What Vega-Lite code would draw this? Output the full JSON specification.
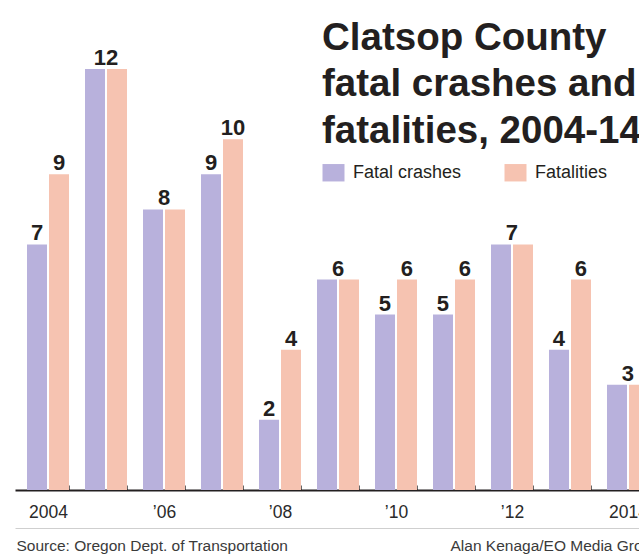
{
  "$schema": "https://vega.github.io/schema/vega-lite/v6.json",
  "autosize": {"type": "none"},
  "width": 639,
  "height": 490,
  "padding": {"left": 0, "top": 0, "right": 0, "bottom": 68},
  "background": "white",
  "config": {"view": {"stroke": null}, "font": "Liberation Sans"},
  "title": {
    "text": ["Clatsop County", "fatal crashes and", "fatalities, 2004-14"],
    "anchor": "start",
    "frame": "group",
    "orient": "top",
    "baseline": "alphabetic",
    "offset": 0,
    "dx": 322,
    "dy": 181,
    "fontSize": 38.5,
    "lineHeight": 46.5,
    "font": "Liberation Sans",
    "fontWeight": "bold",
    "color": "#231f20"
  },
  "data": {
    "values": [
      {"year": 2004, "series": "Fatal crashes", "value": 7},
      {"year": 2004, "series": "Fatalities", "value": 9},
      {"year": 2005, "series": "Fatal crashes", "value": 12},
      {"year": 2005, "series": "Fatalities", "value": 12},
      {"year": 2006, "series": "Fatal crashes", "value": 8},
      {"year": 2006, "series": "Fatalities", "value": 8},
      {"year": 2007, "series": "Fatal crashes", "value": 9},
      {"year": 2007, "series": "Fatalities", "value": 10},
      {"year": 2008, "series": "Fatal crashes", "value": 2},
      {"year": 2008, "series": "Fatalities", "value": 4},
      {"year": 2009, "series": "Fatal crashes", "value": 6},
      {"year": 2009, "series": "Fatalities", "value": 6},
      {"year": 2010, "series": "Fatal crashes", "value": 5},
      {"year": 2010, "series": "Fatalities", "value": 6},
      {"year": 2011, "series": "Fatal crashes", "value": 5},
      {"year": 2011, "series": "Fatalities", "value": 6},
      {"year": 2012, "series": "Fatal crashes", "value": 7},
      {"year": 2012, "series": "Fatalities", "value": 7},
      {"year": 2013, "series": "Fatal crashes", "value": 4},
      {"year": 2013, "series": "Fatalities", "value": 6},
      {"year": 2014, "series": "Fatal crashes", "value": 3},
      {"year": 2014, "series": "Fatalities", "value": 3}
    ]
  },
  "transform": [
    {"joinaggregate": [{"op": "min", "field": "value", "as": "mn"}, {"op": "max", "field": "value", "as": "mx"}], "groupby": ["year"]}
  ],
  "encoding": {
    "x": {
      "field": "year",
      "type": "ordinal",
      "scale": {"range": [15, 661], "paddingInner": 0.2759, "paddingOuter": 0.207}
    },
    "y": {
      "field": "value",
      "type": "quantitative",
      "scale": {"domain": [0, 13.97], "nice": false},
      "axis": null
    }
  },
  "layer": [
    {
      "mark": {"type": "bar"},
      "encoding": {
        "x": {
          "field": "year",
          "type": "ordinal",
          "axis": {
            "title": "Source: Oregon Dept. of Transportation",
            "titleX": 16,
            "titleY": 55,
            "titleAlign": "left",
            "titleAnchor": null,
            "titleBaseline": "middle",
            "titleFontSize": 15.5,
            "titleFontWeight": "normal",
            "titleColor": "#3a3a3a",
            "titleFont": "Liberation Sans",
            "labelExpr": "(datum.value == 2004 || datum.value == 2014) ? datum.label : (datum.value % 2 == 0 ? '’' + slice(datum.label, 2) : '')",
            "labelAngle": 0,
            "labelFontSize": 17.5,
            "labelFont": "Liberation Sans",
            "labelColor": "#2a2a2a",
            "labelBaseline": "middle",
            "labelPadding": 27,
            "domainColor": "#231f20",
            "domainWidth": 2,
            "tickBand": "extent",
            "tickSize": -5,
            "tickColor": "#666666",
            "tickWidth": 1
          }
        },
        "xOffset": {"field": "series", "scale": {"paddingInner": 0.0909, "paddingOuter": 0}},
        "color": {
          "field": "series",
          "type": "nominal",
          "scale": {"domain": ["Fatal crashes", "Fatalities"], "range": ["#b8b1dc", "#f6c3b1"]},
          "legend": {
            "orient": "none",
            "legendX": 324,
            "legendY": 163,
            "direction": "horizontal",
            "title": null,
            "symbolType": "M-1.2,-0.95L1.2,-0.95L1.2,0.95L-1.2,0.95Z",
            "symbolSize": 336,
            "symbolStrokeWidth": 0,
            "symbolOpacity": 1,
            "labelFontSize": 18,
            "labelFont": "Liberation Sans",
            "labelColor": "#231f20",
            "labelOffset": 10,
            "columnPadding": 42
          }
        }
      }
    },
    {
      "transform": [{"filter": "datum.mn != datum.mx"}],
      "mark": {"type": "text", "baseline": "alphabetic", "dy": -4, "fontSize": 22, "fontWeight": "bold", "font": "Liberation Sans", "color": "#231f20"},
      "encoding": {
        "x": {"field": "year", "type": "ordinal", "axis": null},
        "xOffset": {"field": "series", "scale": {"paddingInner": 0.0909, "paddingOuter": 0}},
        "text": {"field": "value", "type": "quantitative"}
      }
    },
    {
      "transform": [{"filter": "datum.mn == datum.mx && datum.series == 'Fatal crashes'"}],
      "mark": {"type": "text", "baseline": "alphabetic", "dy": -4, "fontSize": 22, "fontWeight": "bold", "font": "Liberation Sans", "color": "#231f20"},
      "encoding": {
        "x": {
          "field": "year",
          "type": "ordinal",
          "axis": {
            "orient": "bottom",
            "offset": 38,
            "labels": false,
            "ticks": false,
            "domainColor": "#cfcfcf",
            "domainWidth": 1,
            "title": "Alan Kenaga/EO Media Group",
            "titleX": 450,
            "titleY": 17,
            "titleAlign": "left",
            "titleAnchor": null,
            "titleBaseline": "middle",
            "titleFontSize": 15.5,
            "titleFontWeight": "normal",
            "titleColor": "#3a3a3a",
            "titleFont": "Liberation Sans"
          }
        },
        "text": {"field": "value", "type": "quantitative"}
      }
    }
  ],
  "resolve": {"axis": {"x": "independent"}}
}
